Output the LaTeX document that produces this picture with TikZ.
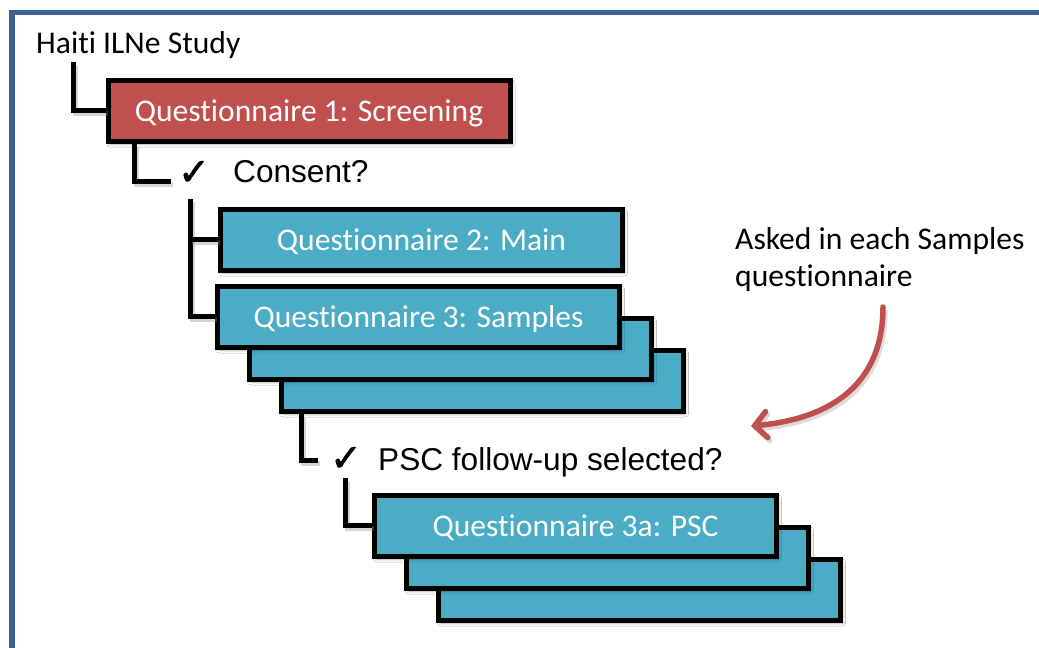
\documentclass[tikz,border=0pt]{standalone}
\usepackage{fontspec}
\setmainfont{Carlito}[Ligatures=NoCommon]
\newfontfamily\arialfont{Liberation Sans}
\newfontfamily\tickfont{DejaVu Sans}[FakeBold=1.6]
\usetikzlibrary{arrows.meta,shadows.blur}
\definecolor{framecol}{RGB}{59,98,145}
\definecolor{qred}{RGB}{192,80,77}
\definecolor{qteal}{RGB}{75,172,198}
\newcommand\bigtxt{\fontsize{31.6}{37}\selectfont}
\tikzset{
  qbox/.style={draw=black, line width=5pt, minimum width=402pt, minimum height=61pt,
    inner sep=0pt, text=white, font=\bigtxt, text height=30pt, text depth=8pt,
    blur shadow={shadow xshift=2pt, shadow yshift=-3pt, shadow opacity=30, shadow blur radius=3pt}},
  redbox/.style={qbox, fill=qred},
  tealbox/.style={qbox, fill=qteal},
  label/.style={inner sep=0pt, font=\bigtxt, text=black},
  qlabel/.style={inner sep=0pt, font=\arialfont\bigtxt, text=black},
  tick/.style={inner sep=0pt, font=\tickfont\fontsize{38}{38}\selectfont},
  lshadow/.style={preaction={draw=black!45, opacity=0.35, line width=5pt,
    transform canvas={shift={(2pt,-3pt)}}}},
  conn/.style={draw=black, line width=5pt, line join=miter, lshadow},
  framestyle/.style={draw=framecol, line width=5.5pt, line join=miter},
  notearrow/.style={draw=qred, line width=5.5pt, line cap=round,
    -{Straight Barb[length=12pt, width=26pt, line cap=round]},
    preaction={draw=black!45, opacity=0.3, line width=5.5pt,
      transform canvas={shift={(2pt,-3pt)}}}}
}
\begin{document}
\begin{tikzpicture}[x=1pt, y=-1pt]
  \clip (0,0) rectangle (1039,648);
  \fill[white] (0,0) rectangle (1039,648);

  % outer frame (only the top and left edges are inside the page)
  \draw[framestyle] (12,700) -- (12,12.5) -- (1100,12.5);

  % title
  \node[label, anchor=base west] (haiti) at (36,53) {Haiti ILNe Study};

  % screening questionnaire
  \node[redbox] (q1) at (309,110.5) {Questionnaire 1: Screening};

  % consent question
  \node[tick] (tick1) at (194,173) {✓};
  \node[qlabel, anchor=base west] (consent) at (233,182) {Consent?};

  % main questionnaire
  \node[tealbox] (q2) at (421.5,239.5) {Questionnaire 2: Main};

  % stacked samples questionnaires
  \node[tealbox] (q3c) at (482.5,380.5) {};
  \node[tealbox] (q3b) at (450.5,348.5) {};
  \node[tealbox] (q3) at (418.5,316.5) {Questionnaire 3: Samples};

  % PSC follow-up question
  \node[tick] (tick2) at (346,459) {✓};
  \node[qlabel, anchor=base west] (psc) at (378,470) {PSC follow-up selected?};

  % stacked PSC questionnaires
  \node[tealbox] (q3ac) at (639.5,589.5) {};
  \node[tealbox] (q3ab) at (607.5,557.5) {};
  \node[tealbox] (q3a) at (575.5,525.5) {Questionnaire 3a: PSC};

  % note
  \node[label, anchor=base west, align=left] (note) at (735,286)
    {Asked in each Samples\\questionnaire};

  % free ends of the tree connectors
  \coordinate (h0) at (73,62);
  \coordinate (k1) at (171,181);
  \coordinate (s0) at (190,199);
  \coordinate (k2) at (318,460);
  \coordinate (p0) at (345,478);
  \coordinate (a0) at (883,307);
  \coordinate (a1) at (751,426);

  % tree connectors
  \draw[conn] (h0) |- (q1.west);
  \draw[conn] ([xshift=29pt]q1.south west) |- (k1);
  \draw[conn] (s0) |- (q3.west);
  \draw[conn] (s0 |- q2.west) -- (q2.west);
  \draw[conn] ([xshift=22pt]q3c.south west) |- (k2);
  \draw[conn] (p0) |- (q3a.west);

  % note arrow
  \draw[notearrow] (a0) .. controls (883,385) and (830,419) .. (a1);
\end{tikzpicture}
\end{document}
